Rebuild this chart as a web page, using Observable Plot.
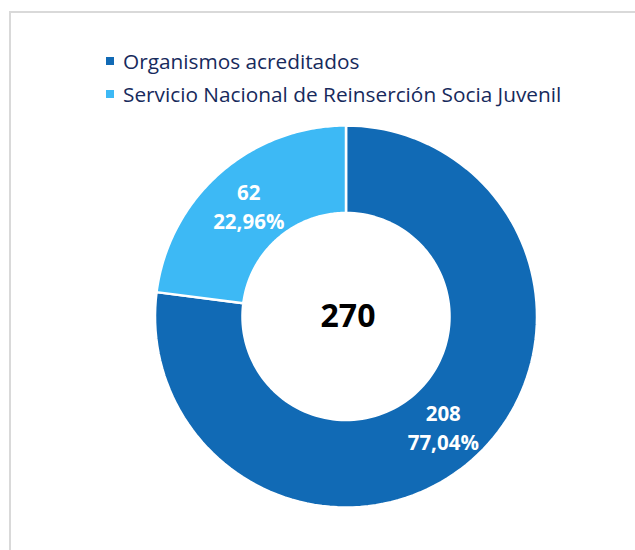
<!DOCTYPE html>
<html>
<head>
<meta charset="utf-8">
<script src="https://cdn.jsdelivr.net/npm/d3@7"></script>
<script src="https://cdn.jsdelivr.net/npm/@observablehq/plot@0.6"></script>
<style>
  html, body { margin: 0; padding: 0; background: #fff; overflow: hidden; }
  body { width: 635px; height: 550px; position: relative; font-family: "Open Sans", sans-serif; }
  #frame { position: absolute; left: 9px; top: 11px; width: 700px; height: 700px; border-left: 2px solid #d9d9d9; border-top: 2px solid #d9d9d9; }
  #legend { position: relative; height: 110px; }
  .row { position: absolute; left: 106px; display: flex; align-items: center; height: 28px; font-size: 20.8px; color: #172a5c; white-space: nowrap; }
  .sw { width: 8px; height: 8px; margin-right: 9px; flex: none; }
  #chart { position: relative; }
</style>
</head>
<body>
<div id="frame"></div>
<div id="legend"></div>
<div id="chart"></div>
<script>
const categories = ["Organismos acreditados", "Servicio Nacional de Reinserción Socia Juvenil"];
const values = [208, 62];
const percentLabels = ["77,04%", "22,96%"];
const colors = ["#116ab5", "#3db9f5"];
const innerRatio = 0.542;

// Legend (HTML, above the SVG)
const legend = document.getElementById("legend");
const rowTops = [47, 80];
categories.forEach((c, i) => {
  const row = document.createElement("div");
  row.className = "row";
  row.style.top = rowTops[i] + "px";
  const sw = document.createElement("span");
  sw.className = "sw";
  sw.style.background = colors[i];
  const t = document.createElement("span");
  t.textContent = c;
  row.append(sw, t);
  legend.append(row);
});

// Build ring polygons from the pie layout
const arcs = d3.pie().sort(null)(values);
const points = [];
const steps = 120;
arcs.forEach((a, i) => {
  const cat = categories[i];
  const a0 = a.startAngle, a1 = a.endAngle;
  const ring = [];
  for (let k = 0; k <= steps; k++) {
    const t = a0 + (a1 - a0) * k / steps;
    ring.push({category: cat, x: Math.sin(t), y: Math.cos(t)});
  }
  for (let k = steps; k >= 0; k--) {
    const t = a0 + (a1 - a0) * k / steps;
    ring.push({category: cat, x: innerRatio * Math.sin(t), y: innerRatio * Math.cos(t)});
  }
  ring.push({...ring[0]});
  points.push(...ring);
});

const mid = (1 + innerRatio) / 2;
const labels = arcs.map((a, i) => {
  const t = (a.startAngle + a.endAngle) / 2;
  return {x: mid * Math.sin(t), y: mid * Math.cos(t), text: `${values[i]}\n${percentLabels[i]}`};
});
const total = d3.sum(values);

const plot = Plot.plot({
  width: 635,
  height: 440,
  marginLeft: 154.5,
  marginRight: 98.5,
  marginTop: 15,
  marginBottom: 43,
  style: {fontFamily: "Open Sans, sans-serif", background: "transparent"},
  x: {domain: [-1, 1], axis: null},
  y: {domain: [-1, 1], axis: null},
  color: {domain: categories, range: colors},
  marks: [
    Plot.line(points, {x: "x", y: "y", z: "category", fill: "category", stroke: "white", strokeWidth: 2.5, strokeLinejoin: "miter", curve: "linear"}),
    Plot.text(labels, {x: "x", y: "y", text: "text", fill: "white", fontWeight: "bold", fontSize: 20.5, lineHeight: 1.45, dy: -1}),
    Plot.text([total], {frameAnchor: "middle", text: d => String(d), fill: "black", fontWeight: "bold", fontSize: 32, dx: 2})
  ]
});
document.getElementById("chart").append(plot);
</script>
</body>
</html>
